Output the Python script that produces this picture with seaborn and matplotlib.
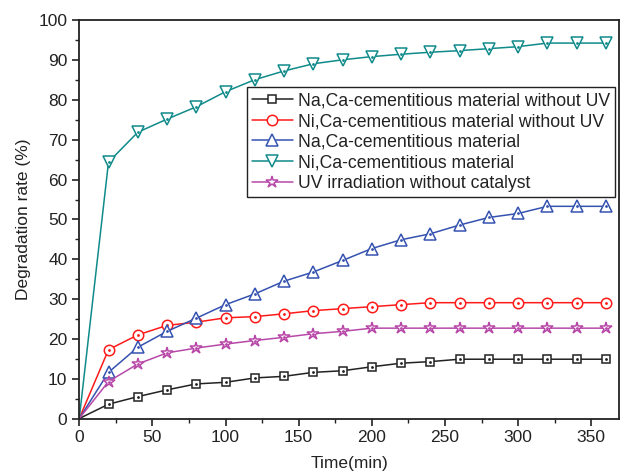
import numpy as np
import pandas as pd
import matplotlib
matplotlib.use("Agg")
import matplotlib.pyplot as plt
import seaborn as sns
from matplotlib.ticker import MultipleLocator

# time points (min)
time = [0, 20, 40, 60, 80, 100, 120, 140, 160, 180, 200, 220, 240, 260, 280, 300, 320, 340, 360]

# degradation rate (%)
na_dark = [0, 3.6, 5.5, 7.2, 8.7, 9.1, 10.2, 10.6, 11.6, 12.0, 13.0, 13.9, 14.3, 14.9, 14.9, 14.9, 14.9, 14.9, 14.9]
ni_dark = [0, 17.3, 21.0, 23.4, 24.2, 25.3, 25.6, 26.3, 27.1, 27.6, 28.1, 28.6, 29.1, 29.1, 29.1, 29.1, 29.1, 29.1, 29.1]
na_uv = [0, 11.6, 17.9, 21.9, 25.2, 28.6, 31.3, 34.5, 36.8, 39.7, 42.7, 44.9, 46.4, 48.6, 50.5, 51.5, 53.3, 53.3, 53.3]
ni_uv = [0, 64.4, 71.9, 75.2, 78.3, 82.1, 85.1, 87.3, 89.1, 90.1, 90.9, 91.5, 92.0, 92.4, 92.9, 93.4, 94.3, 94.3, 94.3]
uv_only = [0, 9.3, 13.7, 16.5, 17.7, 18.7, 19.6, 20.4, 21.3, 21.9, 22.7, 22.7, 22.7, 22.7, 22.7, 22.7, 22.7, 22.7, 22.7]

labels = ["Na,Ca-cementitious material without UV",
          "Ni,Ca-cementitious material without UV",
          "Na,Ca-cementitious material",
          "Ni,Ca-cementitious material",
          "UV irradiation without catalyst"]
series = [na_dark, ni_dark, na_uv, ni_uv, uv_only]
colors = ["#222222", "#ff1a1a", "#3552b0", "#108a8a", "#b848a8"]
markers = ["s", "o", "^", "v", "*"]
sizes = [5.5, 7.5, 8, 8, 9]

sns.set_style("ticks")
plt.rcParams["font.family"] = ["Liberation Sans", "DejaVu Sans"]

fig = plt.figure(figsize=(6.24, 4.74), dpi=100)
ax = fig.add_axes([0.127, 0.117, 0.865, 0.84])

for lab, vals, c, m, s in zip(labels, series, colors, markers, sizes):
    sns.lineplot(x=time, y=vals, ax=ax, color=c, marker=m, markersize=s,
                 markerfacecolor="white", markeredgecolor=c, markeredgewidth=1.1,
                 linewidth=1.1, label=lab, markevery=list(range(1, len(time))))
    # small dot in the middle of each marker
    ax.plot(time[1:], vals[1:], linestyle="none", marker="o", markersize=1.0,
            color=c)

ax.set_xlim(0, 369)
ax.set_ylim(0, 100)
ax.xaxis.set_major_locator(MultipleLocator(50))
ax.xaxis.set_minor_locator(MultipleLocator(25))
ax.yaxis.set_major_locator(MultipleLocator(10))
ax.yaxis.set_minor_locator(MultipleLocator(5))
ax.tick_params(which="major", direction="out", length=5, width=1.2, labelsize=12.5,
               color="#222222", labelcolor="#222222")
ax.tick_params(which="minor", direction="out", length=3, width=1.0, color="#222222")
for sp in ax.spines.values():
    sp.set_linewidth(1.3)
    sp.set_color("#222222")

ax.set_xlabel("Time(min)", fontsize=12.5, labelpad=8, color="#222222")
ax.set_ylabel("Degradation rate (%)", fontsize=12.5, labelpad=5, color="#222222")

leg = ax.legend(loc="upper right", bbox_to_anchor=(0.993, 0.832), fontsize=12.7,
                frameon=True, fancybox=False, framealpha=1, edgecolor="#222222",
                handlelength=2.3, handletextpad=0.3, labelspacing=0.2,
                borderpad=0.3, borderaxespad=0)
leg.get_frame().set_linewidth(1.0)
for t in leg.get_texts():
    t.set_color("#222222")

fig.savefig("out.png", dpi=100)
